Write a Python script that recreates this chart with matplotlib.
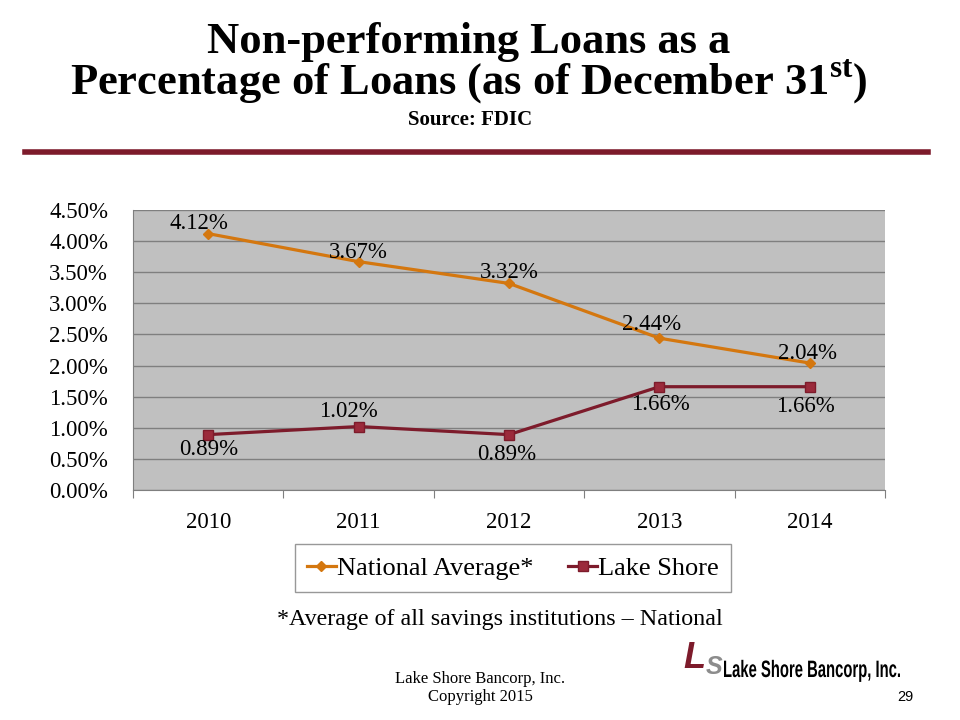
import matplotlib
matplotlib.use("Agg")
import matplotlib.pyplot as plt
from matplotlib.textpath import TextPath
from matplotlib.patches import PathPatch
from matplotlib.font_manager import FontProperties
from matplotlib.transforms import Affine2D

plt.rcParams['font.family'] = ['Liberation Serif', 'DejaVu Serif']
plt.rcParams['mathtext.fontset'] = 'custom'
plt.rcParams['mathtext.rm'] = 'Liberation Serif:bold'
plt.rcParams['mathtext.bf'] = 'Liberation Serif:bold'

years = ['2010', '2011', '2012', '2013', '2014']
national = [4.12, 3.67, 3.32, 2.44, 2.04]
lake_shore = [0.89, 1.02, 0.89, 1.66, 1.66]
yticks = [0.0, 0.5, 1.0, 1.5, 2.0, 2.5, 3.0, 3.5, 4.0, 4.5]

# label offsets in points (x, y)
nat_off = [(-7, 7), (0, 6.5), (0, 8), (-6, 9.5), (-2, 7)]
lake_off = [(0, -11), (-7, 10.5), (-2, -14.5), (1, -13), (-3.5, -14.5)]

orange = '#D4770F'
maroon = '#7D1B2B'

fig = plt.figure(figsize=(9.6, 7.2), dpi=100)
fig.patch.set_facecolor('white')

# title (two lines in one text so they can sit tight)
fig.text(0.488, 1-94/720,
         'Non-performing Loans as a\n'
         r'Percentage of Loans (as of December 31$^{\mathbf{st}}$)',
         ha='center', va='baseline', fontsize=32, fontweight='bold',
         linespacing=0.88, multialignment='center')
fig.text(0.490, 1-120/720, 'Source: FDIC', ha='center', va='center',
         fontsize=15, fontweight='bold')
fig.add_artist(plt.Line2D([25/960, 928/960], [1-152/720, 1-152/720],
                          color=maroon, lw=4))

ax = fig.add_axes([133/960, 1-490/720, 752/960, 280/720])
ax.set_facecolor('#C0C0C0')
x = range(len(years))

ax.plot(x, national, color=orange, lw=2.3, marker='D', ms=5,
        label='National Average*', zorder=3)
ax.plot(x, lake_shore, color=maroon, lw=2.3, marker='s', ms=7.5,
        mfc='#9B2A3B', mec=maroon, label='Lake Shore', zorder=3)

for i, v in enumerate(national):
    ax.annotate(f'{v:.2f}%', (i, v), xytext=nat_off[i], textcoords='offset points',
                ha='center', va='center', fontsize=16.5, zorder=4)
for i, v in enumerate(lake_shore):
    ax.annotate(f'{v:.2f}%', (i, v), xytext=lake_off[i], textcoords='offset points',
                ha='center', va='center', fontsize=16.5, zorder=4)

ax.set_xlim(-0.5, 4.5)
ax.set_ylim(0, 4.5)
ax.set_yticks(yticks)
ax.set_yticklabels([f'{t:.2f}%' for t in yticks], fontsize=16.5)
ax.yaxis.grid(True, color='#7F7F7F', lw=1)
ax.set_axisbelow(True)
ax.tick_params(axis='y', length=0, pad=18)

ax.set_xticks([i - 0.5 for i in range(len(years) + 1)])
ax.set_xticklabels([])
ax.set_xticks(list(x), minor=True)
ax.set_xticklabels(years, minor=True, fontsize=16.5)
ax.tick_params(axis='x', which='major', length=6, color='#7F7F7F', direction='out')
ax.tick_params(axis='x', which='minor', length=0, pad=16)

for s in ['top', 'right']:
    ax.spines[s].set_visible(False)
ax.spines['left'].set_color('#7F7F7F')
ax.spines['bottom'].set_color('#7F7F7F')

leg = fig.legend(loc='center', bbox_to_anchor=(513/960, 1-568/720), ncol=2,
                 fontsize=19, frameon=True, fancybox=False, edgecolor='#7F7F7F',
                 handlelength=1.1, handletextpad=0.05, columnspacing=1.3,
                 borderpad=0.45, borderaxespad=0)
leg.get_frame().set_linewidth(1)

fig.text(0.521, 1-620/720, '*Average of all savings institutions \u2013 National',
         ha='center', va='center', fontsize=17.3)

# footer
fig.text(0.5, 1-679/720, 'Lake Shore Bancorp, Inc.', ha='center', va='center', fontsize=12)
fig.text(0.5, 1-697/720, 'Copyright 2015', ha='center', va='center', fontsize=12)
fig.text(905/960, 1-697/720, '29', ha='center', va='center', fontsize=10.5,
         family='Liberation Sans')

# logo
fig.text(694/960, 1-659/720, 'L', ha='center', va='center', fontsize=26,
         fontweight='bold', style='italic', color=maroon, family='Liberation Sans')
fig.text(714/960, 1-667/720, 'S', ha='center', va='center', fontsize=18,
         fontweight='bold', style='italic', color='#8C8C8C', family='Liberation Sans')

# condensed logo name: squeeze a text path to the width seen in the slide
tp = TextPath((0, 0), 'Lake Shore Bancorp, Inc.', size=24,
              prop=FontProperties(family='Liberation Sans', weight='bold'))
ext = tp.get_extents()
sx = 176 / ext.width
sy = 17 / 17.2  # cap height of 24px Liberation Sans Bold is ~17.2px
logo = PathPatch(tp, color='black', lw=0,
                 transform=Affine2D().translate(-ext.x0, 0).scale(sx, sy)
                 .translate(724, 720 - 677))
fig.add_artist(logo)

fig.savefig('out.png', dpi=100)
